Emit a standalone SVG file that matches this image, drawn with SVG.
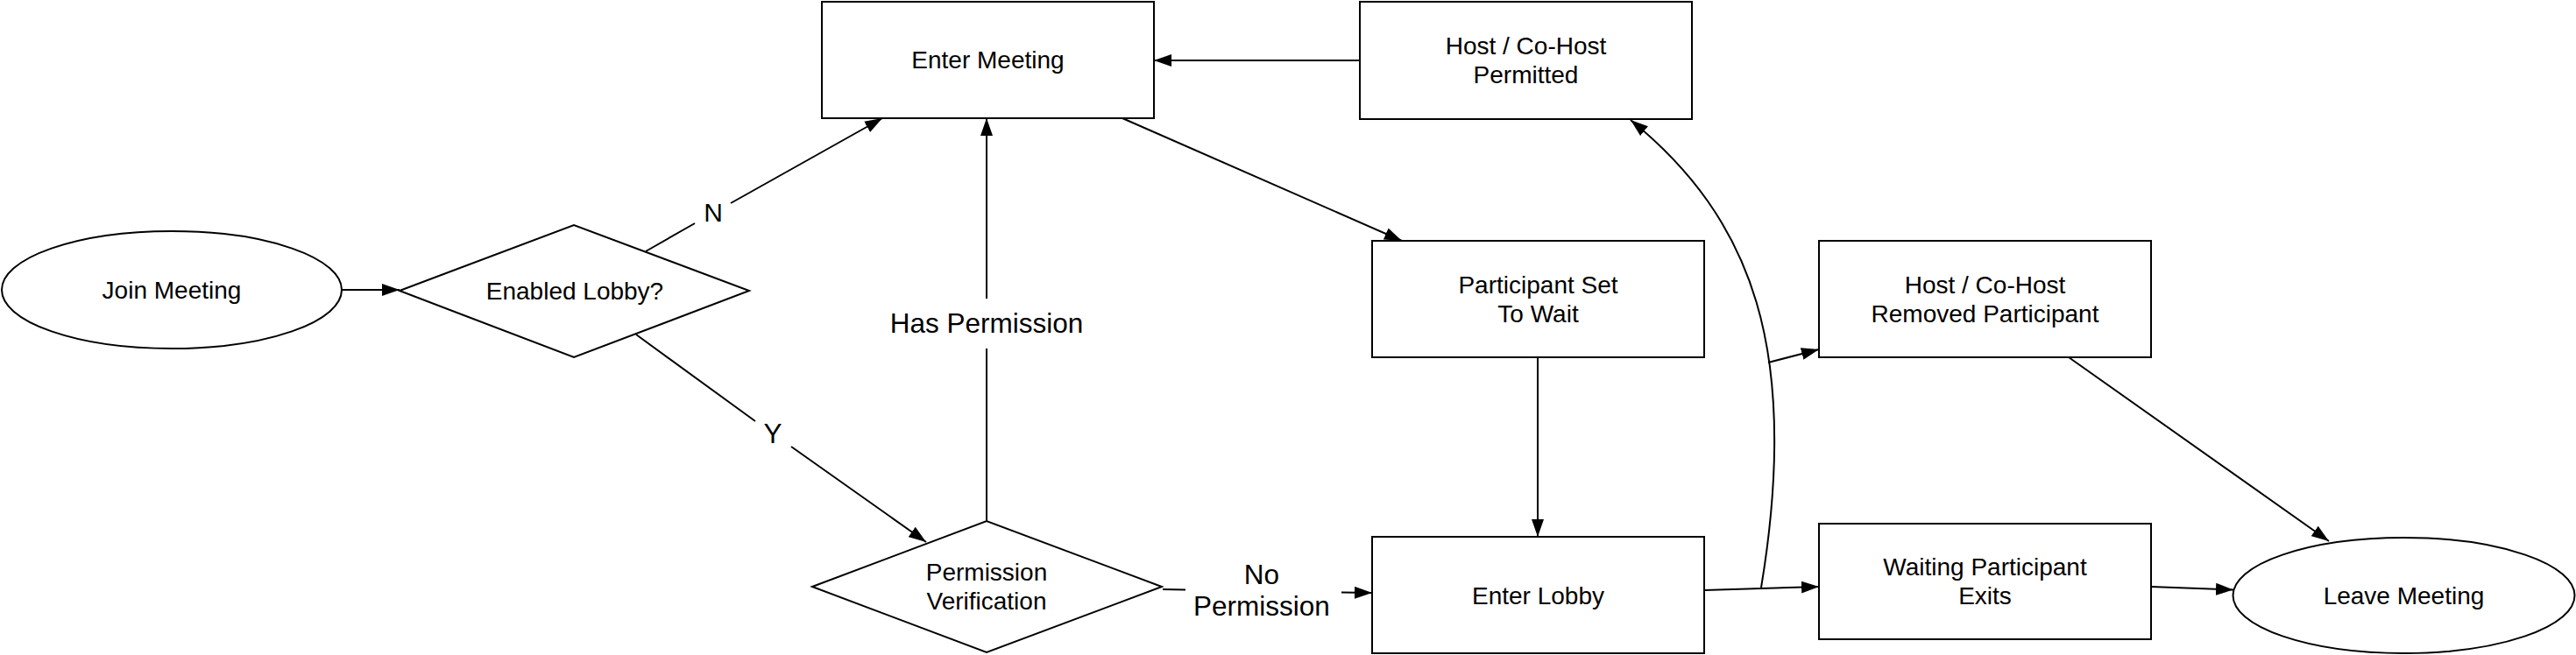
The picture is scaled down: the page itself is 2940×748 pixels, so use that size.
<svg xmlns="http://www.w3.org/2000/svg" width="2940" height="748" viewBox="0 0 2940 748">
<style>
.node{fill:#fff;stroke:#000;stroke-width:2}
.edge{fill:none;stroke:#000;stroke-width:2}
text{font-family:"Liberation Sans",Arial,Helvetica,sans-serif;fill:#000;text-anchor:middle}
.t{font-size:28px}
.lbl{font-size:30px}
.big{font-size:31.5px}
</style>
<defs>
<marker id="arr" markerUnits="userSpaceOnUse" markerWidth="20" markerHeight="14" refX="20" refY="7" orient="auto">
<path d="M0,0 L20,7 L0,14 z" fill="#000"/>
</marker>
</defs>
<rect width="2940" height="748" fill="#fff"/>
<g id="connectors">
<path class="edge" d="M390,331 L456,331" marker-end="url(#arr)"/>
<path class="edge" d="M737,287 L793,255"/>
<path class="edge" d="M834,232 L1007,135" marker-end="url(#arr)"/>
<path class="edge" d="M726,382 L862,481"/>
<path class="edge" d="M903,510 L1057,619" marker-end="url(#arr)"/>
<path class="edge" d="M1126,595 L1126,398"/>
<path class="edge" d="M1126,341 L1126,135" marker-end="url(#arr)"/>
<path class="edge" d="M1327,673 L1353,673.4"/>
<path class="edge" d="M1531,676.6 L1566,677" marker-end="url(#arr)"/>
<path class="edge" d="M1552,69 L1317,69" marker-end="url(#arr)"/>
<path class="edge" d="M1281,135 L1600,275" marker-end="url(#arr)"/>
<path class="edge" d="M1755,408 L1755,613" marker-end="url(#arr)"/>
<path class="edge" d="M1945,674 L2076,670" marker-end="url(#arr)"/>
<path class="edge" d="M2010,671 C2055,400 2000,250 1861,137" marker-end="url(#arr)"/>
<path class="edge" d="M2018,414 L2076,399" marker-end="url(#arr)"/>
<path class="edge" d="M2361,408 L2658,618" marker-end="url(#arr)"/>
<path class="edge" d="M2455,670 L2549,673.5" marker-end="url(#arr)"/>
</g>
<g id="labels">
<text class="lbl" x="814" y="253">N</text>
<text class="big" x="882" y="506">Y</text>
<text class="big" x="1126" y="380">Has Permission</text>
<text class="big" x="1440" y="667">No</text>
<text class="big" x="1440" y="703">Permission</text>
</g>
<g id="join-meeting">
<ellipse class="node" cx="196" cy="331" rx="194" ry="67"/>
<text class="t" x="196" y="341">Join Meeting</text>
</g>
<g id="enabled-lobby">
<polygon class="node" points="456,332 655,257 855,332 655,408"/>
<text class="t" x="656" y="342">Enabled Lobby?</text>
</g>
<g id="enter-meeting">
<rect class="node" x="938" y="2" width="379" height="133"/>
<text class="t" x="1127.5" y="78">Enter Meeting</text>
</g>
<g id="host-permitted">
<rect class="node" x="1552" y="2" width="379" height="134"/>
<text class="t" x="1741.5" y="62">Host / Co-Host</text>
<text class="t" x="1741.5" y="95">Permitted</text>
</g>
<g id="permission-verification">
<polygon class="node" points="927,670 1126,595 1326,670 1126,745"/>
<text class="t" x="1126" y="663">Permission</text>
<text class="t" x="1126" y="696">Verification</text>
</g>
<g id="participant-wait">
<rect class="node" x="1566" y="275" width="379" height="133"/>
<text class="t" x="1755.5" y="334.5">Participant Set</text>
<text class="t" x="1755.5" y="367.5">To Wait</text>
</g>
<g id="enter-lobby">
<rect class="node" x="1566" y="613" width="379" height="133"/>
<text class="t" x="1755.5" y="690">Enter Lobby</text>
</g>
<g id="host-removed">
<rect class="node" x="2076" y="275" width="379" height="133"/>
<text class="t" x="2265.5" y="334.5">Host / Co-Host</text>
<text class="t" x="2265.5" y="367.5">Removed Participant</text>
</g>
<g id="waiting-exits">
<rect class="node" x="2076" y="598" width="379" height="132"/>
<text class="t" x="2265.5" y="657">Waiting Participant</text>
<text class="t" x="2265.5" y="690">Exits</text>
</g>
<g id="leave-meeting">
<ellipse class="node" cx="2743.5" cy="680" rx="195" ry="66"/>
<text class="t" x="2743.5" y="690">Leave Meeting</text>
</g>
</svg>
